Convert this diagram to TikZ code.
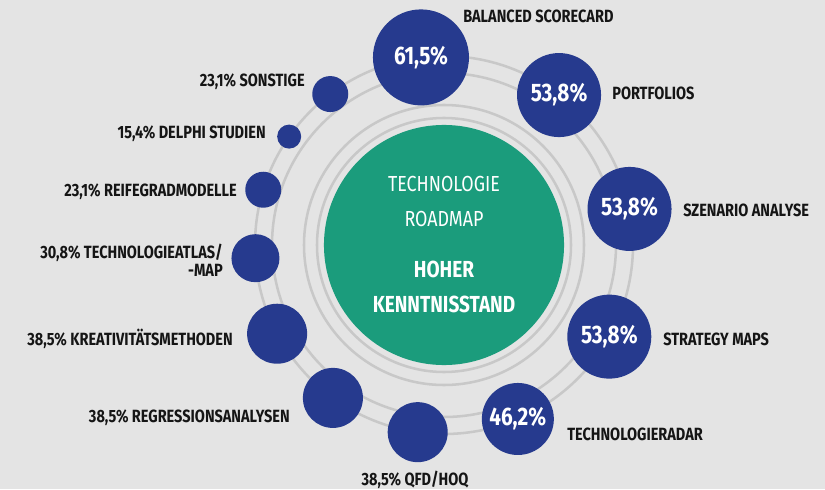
\documentclass[tikz,border=0pt]{standalone}
\usepackage{fontspec}
\setmainfont{Fira Sans}[FakeStretch=0.82]
\definecolor{bggray}{HTML}{E4E4E4}
\definecolor{dotblue}{HTML}{263A8E}
\definecolor{roadgreen}{HTML}{1B9C7C}
\definecolor{ringgray}{HTML}{C8C8C8}
\definecolor{lblblack}{HTML}{151515}
\tikzset{
  ring/.style={draw=ringgray,line width=1.8pt},
  dot/.style={circle,fill=dotblue,inner sep=0pt,minimum size=#1},
  pct/.style={text=white,font=\fontsize{18}{18}\selectfont\bfseries},
  lbl/.style={inner sep=0pt,text=lblblack,font=\fontsize{12.6}{13}\selectfont\bfseries},
  core/.style={inner sep=0pt,text=white,align=center}
}

\begin{document}
\begin{tikzpicture}[x=0.025cm,y=0.025cm]
    \fill[bggray](0,0)rectangle(825,489);
    \useasboundingbox(0,0)rectangle(825,489);
    \coordinate (c) at (444,244);
    % rings
    \foreach \r in {127,140,172,189}
        \draw[ring](c)circle[radius=\r];
    \node[circle,fill=roadgreen,minimum size=6cm,inner sep=0pt] (road) at (c) {};
    % dots on the outer ring
    \begin{scope}[shift={(444,244)}]
        \foreach \ang/\dia/\name in {97/2.4/bsc,52.5/2.1/portf,11/2.1/szen,-29/2.1/strat,
            -67/1.8/radar,-98/1.5/qfd,-126/1.5/regr,-152/1.5/kreat,184/1.2/atlas,
            163/0.9/reife,145/0.6/delphi,127/0.9/sonst}
            \node[dot=\dia cm] (\name) at (\ang:189) {};
    \end{scope}
    \foreach \name/\val in {bsc/{61,5\%},portf/{53,8\%},szen/{53,8\%},strat/{53,8\%},radar/{46,2\%}}
        \node[pct] at (\name) {\val};
    % labels
    \node[lbl,anchor=base west] (lbsc) at (463,466) {BALANCED SCORECARD};
    \node[lbl,anchor=base west] (lportf) at (612,389) {PORTFOLIOS};
    \node[lbl,anchor=base west] (lszen) at (683,273) {SZENARIO ANALYSE};
    \node[lbl,anchor=base west] (lstrat) at (663,144) {STRATEGY MAPS};
    \node[lbl,anchor=base west] (lradar) at (567,49) {TECHNOLOGIERADAR};
    \node[lbl,anchor=base] (lqfd) at (415,4) {38,5\% QFD/HOQ};
    \node[lbl,anchor=base east] (lregr) at (290,67) {38,5\% REGRESSIONSANALYSEN};
    \node[lbl,anchor=base east] (lkreat) at (233,144) {38,5\% KREATIVITÄTSMETHODEN};
    \node[lbl,anchor=base east,align=right] (latlas) at (223,213) {30,8\% TECHNOLOGIEATLAS/\\[-0.5pt]-MAP};
    \node[lbl,anchor=base east] (lreife) at (237,292) {23,1\% REIFEGRADMODELLE};
    \node[lbl,anchor=base east] (ldelphi) at (266,351) {15,4\% DELPHI STUDIEN};
    \node[lbl,anchor=base east] (lsonst) at (305,402) {23,1\% SONSTIGE};
    % centre text
    \node[core,anchor=base,font=\fontsize{15.5}{24.2}\selectfont] (title) at (444,263)
        {TECHNOLOGIE\\ROADMAP};
    \node[core,anchor=base,font=\fontsize{16.5}{24.6}\selectfont\bfseries] (state) at (444,177)
        {HOHER\\KENNTNISSTAND};
\end{tikzpicture}
\end{document}
